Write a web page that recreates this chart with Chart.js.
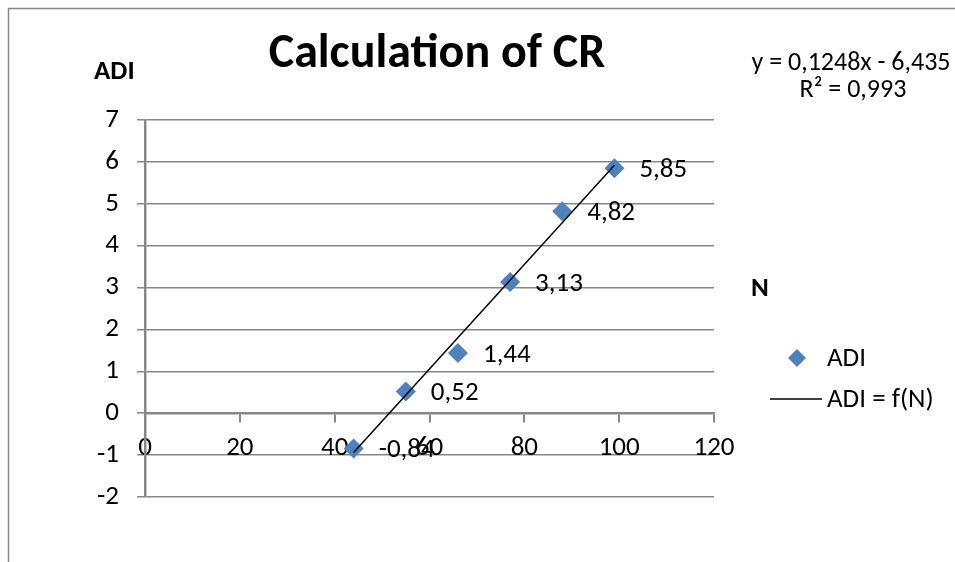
<!DOCTYPE html>
<html>
<head>
<meta charset="utf-8">
<script src="https://cdn.jsdelivr.net/npm/chart.js@4.4.1/dist/chart.umd.min.js"></script>
<style>
  html, body { margin: 0; padding: 0; background: #fff; }
  #wrap { width: 955px; height: 562px; position: relative; }
</style>
</head>
<body>
<div id="wrap"><canvas id="c" width="955" height="562"></canvas></div>
<script>
// ---- data ----
const nValues   = [44, 55, 66, 77, 88, 99];
const adiValues = [-0.84, 0.52, 1.44, 3.13, 4.82, 5.85];
const trendX    = [44, 99];
const trendY    = [-0.94, 5.92];
const titleText = 'Calculation of CR';
const yAxisTitle = 'ADI';
const xAxisTitle = 'N';
const equationLines = ['y = 0,1248x - 6,435', 'R² = 0,993'];
const legendLabels = ['ADI', 'ADI = f(N)'];

const FONT = 'Carlito, Lato, "Open Sans", sans-serif';
const BLUE = '#4F81BD';
const GRID = '#878787';

const fmt = v => v.toFixed(2).replace('.', ',');

const overlay = {
  id: 'overlay',
  afterDraw(chart) {
    const ctx = chart.ctx;
    const xs = chart.scales.x, ys = chart.scales.y;
    ctx.save();
    // outer frame (top and left edges visible)
    ctx.strokeStyle = GRID; ctx.lineWidth = 1.5;
    ctx.beginPath();
    ctx.moveTo(8.5, 562); ctx.lineTo(8.5, 8.5); ctx.lineTo(955, 8.5);
    ctx.stroke();

    ctx.fillStyle = '#000';
    ctx.textBaseline = 'middle';
    // title
    ctx.font = 'bold 48px ' + FONT;
    ctx.textAlign = 'center';
    ctx.fillText(titleText, 437, 55);
    // axis titles
    ctx.font = 'bold 27px ' + FONT;
    ctx.textAlign = 'left';
    ctx.fillText(yAxisTitle, 94, 72);
    ctx.fillText(xAxisTitle, 751, 289);
    // equation
    ctx.font = '26px ' + FONT;
    ctx.textAlign = 'center';
    ctx.fillText(equationLines[0], 851, 63);
    ctx.fillText(equationLines[1], 853, 90);
    // data labels
    ctx.font = '27px ' + FONT;
    ctx.textAlign = 'left';
    nValues.forEach((n, i) => {
      const px = xs.getPixelForValue(n), py = ys.getPixelForValue(adiValues[i]);
      ctx.fillText(fmt(adiValues[i]), px + 25, py + 2);
    });
    // legend
    ctx.font = '27px ' + FONT;
    ctx.fillStyle = BLUE;
    ctx.beginPath();
    ctx.moveTo(797, 349); ctx.lineTo(806, 358); ctx.lineTo(797, 367); ctx.lineTo(788, 358);
    ctx.closePath(); ctx.fill();
    ctx.fillStyle = '#000';
    ctx.fillText(legendLabels[0], 827, 359);
    ctx.strokeStyle = '#000'; ctx.lineWidth = 1.5;
    ctx.beginPath(); ctx.moveTo(770, 399); ctx.lineTo(822, 399); ctx.stroke();
    ctx.fillText(legendLabels[1], 827, 400);
    ctx.restore();
  }
};

new Chart(document.getElementById('c'), {
  type: 'scatter',
  data: {
    datasets: [
      {
        label: legendLabels[1],
        data: trendX.map((x, i) => ({ x, y: trendY[i] })),
        showLine: true,
        borderColor: '#000',
        borderWidth: 1.5,
        pointRadius: 0,
        fill: false,
        order: 0
      },
      {
        label: legendLabels[0],
        data: nValues.map((x, i) => ({ x, y: adiValues[i] })),
        pointStyle: 'rectRot',
        pointRadius: 10,
        backgroundColor: BLUE,
        borderColor: BLUE,
        borderWidth: 0,
        order: 1
      }
    ]
  },
  options: {
    responsive: false,
    animation: false,
    layout: { padding: { left: 0, right: 241, top: 120, bottom: 65 } },
    plugins: { legend: { display: false }, title: { display: false }, tooltip: { enabled: false } },
    scales: {
      x: {
        type: 'linear',
        position: { y: 0 },
        min: 0, max: 120,
        ticks: { stepSize: 20, color: '#000', font: { family: FONT, size: 27 }, padding: 11, maxRotation: 0 },
        grid: { drawOnChartArea: false, drawTicks: true, tickLength: 8, color: GRID, lineWidth: 2 },
        border: { display: true, color: GRID, width: 2.5 }
      },
      y: {
        type: 'linear',
        min: -2, max: 7,
        afterFit(s) { s.width = 145; },
        ticks: { stepSize: 1, color: '#000', font: { family: FONT, size: 27 }, padding: 18 },
        grid: { color: GRID, lineWidth: 1.5, tickLength: 8, drawTicks: true },
        border: { display: true, color: GRID, width: 2.5 }
      }
    }
  },
  plugins: [overlay]
});
</script>
</body>
</html>
